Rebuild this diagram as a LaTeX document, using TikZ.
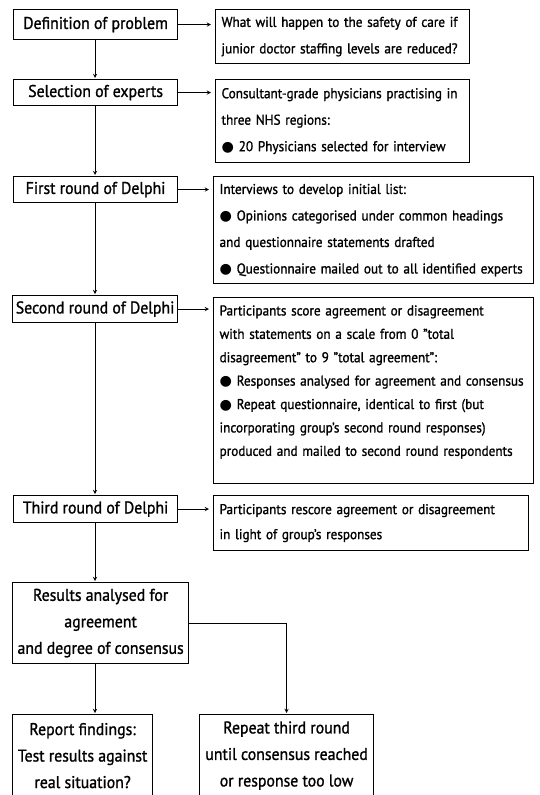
\documentclass[tikz,border=0pt]{standalone}
\usepackage{fontspec}
\setmainfont{PT Sans}[FakeStretch=0.93, FakeBold=1.2]
\newfontfamily\dotfont{DejaVu Sans}
\newcommand{\blt}{{\dotfont\char"25CF}\ }

\begin{document}
\begin{tikzpicture}
            [x=1pt, y=-1pt, >=stealth, shorten >=1pt, line width=0.9pt,
             stage/.style={draw=black, line width=1.2pt, anchor=north west, inner sep=0pt,
                           align=center, font=\fontsize{17}{26.5}\selectfont},
             info/.style={draw=black, line width=1.2pt, anchor=north west, inner xsep=6pt,
                          inner ysep=0pt, align=left, font=\fontsize{14.2}{26.5}\selectfont}]
            \path[use as bounding box, clip] (0,0) rectangle (540,795);
            \coordinate (spine) at (95,0);

            % left column
            \node[stage, minimum width=164pt, minimum height=30pt] (def) at (13,9) {Definition of problem};
            \node[stage, minimum width=164pt, minimum height=26pt] (sel) at (13,79) {Selection of experts};
            \node[stage, minimum width=164pt, minimum height=26pt] (first) at (13,176) {First round of Delphi};
            \node[stage, minimum width=165pt, minimum height=27pt] (second) at (12,295) {Second round of Delphi};
            \node[stage, minimum width=164pt, minimum height=27pt] (third) at (13,495) {Third round of Delphi};
            \node[stage, minimum width=176pt, minimum height=81pt] (results) at (12,582)
                {Results analysed for\\ agreement\\ and degree of consensus};
            \node[stage, minimum width=140pt, minimum height=82pt, font=\fontsize{17}{26.5}\selectfont] (report) at (12,714)
                {Report findings:\\ Test results against\\ real situation?};
            \node[stage, minimum width=174pt, minimum height=82pt, font=\fontsize{17}{26.5}\selectfont] (repeat) at (199,714)
                {Repeat third round\\ until consensus reached\\ or response too low};

            % right column
            \node[info, minimum width=254pt, minimum height=54pt, text width=242pt] (question) at (215,9)
                {What will happen to the safety of care if\\ junior doctor staffing levels are reduced?};
            \node[info, minimum width=254pt, minimum height=83pt, text width=242pt] (panel) at (215,79)
                {Consultant-grade physicians practising in\\ three NHS regions:\\ \blt 20 Physicians selected for interview};
            \node[info, minimum width=320pt, minimum height=107pt, text width=308pt] (interviews) at (213,176)
                {Interviews to develop initial list:\\ \blt Opinions categorised under common headings\\
                 and questionnaire statements drafted\\ \blt Questionnaire mailed out to all identified experts};
            \node[info, minimum width=320pt, minimum height=186pt, text width=308pt,
                  font=\fontsize{14.2}{23.4}\selectfont] (scoring) at (213,297)
                {Participants score agreement or disagreement\\ with statements on a scale from 0 "total\\
                 disagreement" to 9 "total agreement":\\ \blt Responses analysed for agreement and consensus\\
                 \blt Repeat questionnaire, identical to first (but\\ incorporating group's second round responses)\\
                 produced and mailed to second round respondents\rule[-20pt]{0pt}{1pt}};
            \node[info, minimum width=315pt, minimum height=55pt, text width=303pt,
                  font=\fontsize{14.2}{25}\selectfont] (rescore) at (213,495)
                {Participants rescore agreement or disagreement\\ in light of group's responses};

            % main line
            \path [->] (def.south -| spine) edge (sel.north -| spine);
            \path [->] (sel.south -| spine) edge (first.north -| spine);
            \path [->] (first.south -| spine) edge (second.north -| spine);
            \path [->] (second.south -| spine) edge (third.north -| spine);
            \path [->] (third.south -| spine) edge (results.north -| spine);
            \path [->] (results.south -| spine) edge (report.north -| spine);
            \draw [->] (results.east) -| (repeat.north);

            % side arrows
            \path [->, shorten >=4pt] (def.east) edge (def.east -| question.west);
            \path [->, shorten >=4pt] (sel.east) edge (sel.east -| panel.west);
            \path [->, shorten >=4pt] (first.east) edge (first.east -| interviews.west);
            \path [->, shorten >=4pt] (second.east) edge (second.east -| scoring.west);
            \path [->, shorten >=4pt] (third.east) edge (third.east -| rescore.west);
        \end{tikzpicture}
\end{document}
